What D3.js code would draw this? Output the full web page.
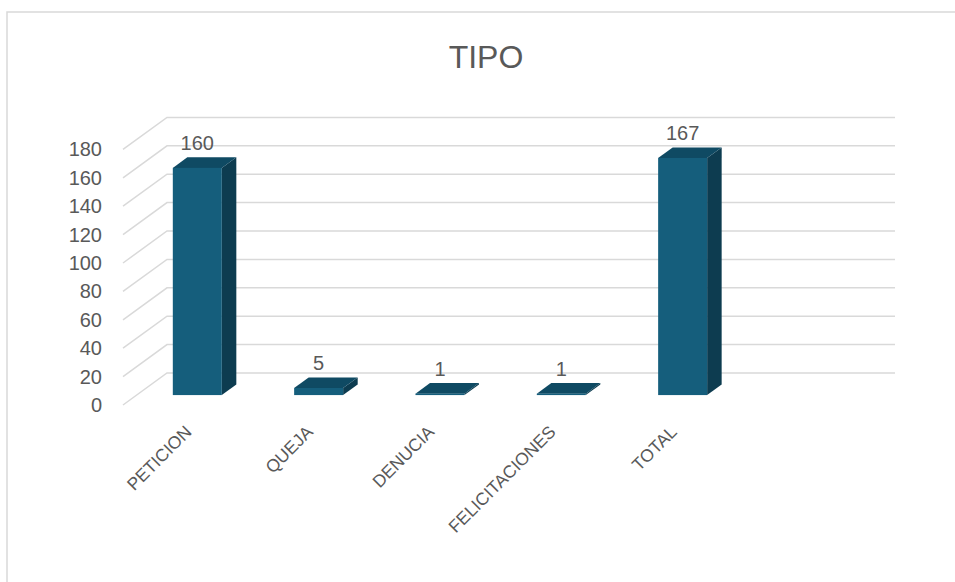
<!DOCTYPE html>
<html><head><meta charset="utf-8">
<script src="https://cdn.jsdelivr.net/npm/d3@7"></script>
<style>body{margin:0;background:#fff}svg{display:block}text{font-family:"Liberation Sans",Arial,sans-serif;fill:#595959}</style>
</head><body>
<svg id="c" width="955" height="582"></svg>
<script>
const categories = ["PETICION","QUEJA","DENUCIA","FELICITACIONES","TOTAL",""];
const values = [160,5,1,1,167,null];
const yTicks = [0,20,40,60,80,100,120,140,160,180];
const title = "TIPO";

const svg = d3.select("#c");
const W = 955, H = 582;
// chart border
svg.append("rect").attr("x",7).attr("y",12).attr("width",W).attr("height",H)
  .attr("fill","#fff").attr("stroke","#d9d9d9").attr("stroke-width",1.5);

svg.append("text").attr("x",486).attr("y",68).attr("text-anchor","middle")
  .style("font-size","32px").text(title);

const left = 123, right = 851, y0 = 405, y1 = 149.4;
const DX = 44, DY = -32;
const x = d3.scaleBand().domain(categories).range([left,right]).paddingInner(0).paddingOuter(0);
const y = d3.scaleLinear().domain([0,180]).range([y0,y1]);

// gridlines (side wall + back wall)
const g = svg.append("g");
g.selectAll("path.grid").data(yTicks).join("path").attr("class","grid")
  .attr("d", t => `M${left},${y(t)}L${left+DX},${y(t)+DY}L${right+DX},${y(t)+DY}`)
  .attr("fill","none").attr("stroke","#d9d9d9").attr("stroke-width",1.5);

// y axis labels
g.selectAll("text.yt").data(yTicks).join("text").attr("class","yt")
  .attr("x",102).attr("y",t=>y(t)).attr("dominant-baseline","central")
  .attr("text-anchor","end").style("font-size","20px").text(d=>d);

// bars
const bw = 49, f0 = 0.31, fd = 0.33;
const sx = DX*f0, sy = DY*f0, bdx = DX*fd, bdy = DY*fd;
const data = categories.map((c,i)=>({c,v:values[i]})).filter(d=>d.v!=null);
const bars = svg.append("g").selectAll("g").data(data).join("g");
const fx = d => x(d.c) + x.bandwidth()/2 - bw/2 + sx;
const fb = d => y(0) + sy;
const ft = d => y(d.v) + sy;
// side
bars.append("path").attr("d", d => {
  const xr = fx(d)+bw, b = fb(d), t = ft(d);
  return `M${xr},${b}L${xr+bdx},${b+bdy}L${xr+bdx},${t+bdy}L${xr},${t}Z`;
}).attr("fill","#0d3c50");
// top
bars.append("path").attr("d", d => {
  const xl = fx(d), t = ft(d);
  return `M${xl},${t}L${xl+bw},${t}L${xl+bw+bdx},${t+bdy}L${xl+bdx},${t+bdy}Z`;
}).attr("fill","#0f4a63");
// front
bars.append("rect").attr("x",fx).attr("y",ft).attr("width",bw)
  .attr("height",d=>fb(d)-ft(d)).attr("fill","#155e7c");
// value labels
bars.append("text").attr("x",d=>fx(d)+bw/2).attr("y",d=>ft(d)+bdy-7)
  .attr("text-anchor","middle").style("font-size","20px").text(d=>d.v);

// category labels
svg.append("g").selectAll("text").data(categories.filter(c=>c)).join("text")
  .attr("transform", c => `translate(${x(c)+x.bandwidth()/2+9},433) rotate(-45)`)
  .attr("text-anchor","end").style("font-size","17.5px").text(c=>c);
</script>
</body></html>
